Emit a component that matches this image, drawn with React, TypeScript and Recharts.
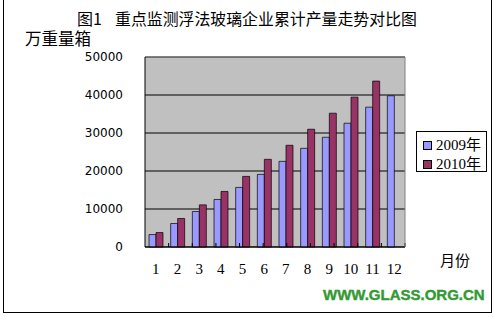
import { BarChart, Bar, XAxis, YAxis, CartesianGrid, Legend } from "recharts";

const months = ["1", "2", "3", "4", "5", "6", "7", "8", "9", "10", "11", "12"];
const output2009 = [3270, 6180, 9340, 12510, 15680, 19110, 22540, 25970, 28880, 32570, 36800, 39800];
const output2010: (number | null)[] = [3800, 7500, 11090, 14620, 18580, 23070, 26770, 30990, 35210, 39440, 43660, null];
const yTicks = [0, 10000, 20000, 30000, 40000, 50000];
const boundaryTicks = [1, 2, 3, 4, 5, 6, 7, 8, 9, 10, 11];

const data = months.map((m, i) => ({ month: m, y2009: output2009[i], y2010: output2010[i] }));

const cjk = "'Noto Sans CJK SC', sans-serif";
const serif = "'Liberation Serif', 'Noto Sans CJK SC', serif";

function LegendBox({ payload }: any) {
  return (
    <div
      style={{
        width: 71,
        height: 41,
        boxSizing: "border-box",
        border: "1px solid #000",
        background: "#fff",
        position: "relative",
      }}
    >
      {(payload || []).map((p: any, i: number) => (
        <div
          key={p.value}
          style={{
            position: "absolute",
            left: 6,
            top: 4 + i * 19,
            height: 18,
            display: "flex",
            alignItems: "center",
          }}
        >
          <span
            style={{
              width: 9,
              height: 9,
              boxSizing: "border-box",
              border: "1px solid #000",
              background: p.color,
              marginRight: 4,
            }}
          />
          <span style={{ fontFamily: serif, fontSize: 15, color: "#000", lineHeight: "18px" }}>
            {p.value}
          </span>
        </div>
      ))}
    </div>
  );
}

export default function App() {
  return (
    <div style={{ position: "absolute", left: 0, top: 0, width: 495, height: 317, background: "#fff" }}>
      {/* frame */}
      <div
        style={{
          position: "absolute",
          left: 3,
          top: 0,
          width: 489,
          height: 313,
          boxSizing: "border-box",
          borderLeft: "1px solid #000",
          borderRight: "1px solid #000",
          borderBottom: "1px solid #000",
        }}
      />
      <div style={{ position: "absolute", left: 77, top: 10, fontFamily: cjk, fontSize: 16, lineHeight: "17px", color: "#000" }}>
        图1
      </div>
      <div style={{ position: "absolute", left: 115, top: 10, fontFamily: cjk, fontSize: 15.9, lineHeight: "17px", color: "#000", whiteSpace: "nowrap" }}>
        重点监测浮法玻璃企业累计产量走势对比图
      </div>
      <div style={{ position: "absolute", left: 25, top: 30, fontFamily: cjk, fontSize: 16.5, lineHeight: "17px", color: "#000" }}>
        万重量箱
      </div>
      <div style={{ position: "absolute", left: 440, top: 252, fontFamily: cjk, fontSize: 15, lineHeight: "16px", color: "#000" }}>
        月份
      </div>
      <div
        style={{
          position: "absolute",
          left: 323,
          top: 287,
          fontFamily: "'Liberation Sans', Arial, sans-serif",
          fontWeight: 900,
          fontSize: 15,
          lineHeight: "16px",
          color: "#339933",
          WebkitTextStroke: "0.4px #339933",
          whiteSpace: "nowrap",
        }}
      >
        WWW.GLASS.ORG.CN
      </div>

      <div style={{ position: "absolute", left: 0, top: 0 }}>
        <BarChart
          width={495}
          height={317}
          data={data}
          margin={{ top: 56, right: 89, bottom: 69, left: 85 }}
          barGap={0}
          barSize={7}
        >
          <CartesianGrid vertical={false} stroke="#000" fill="#C0C0C0" fillOpacity={1} />
          <Bar dataKey="y2009" name="2009年" fill="#9999FF" stroke="#000" strokeWidth={0.7} isAnimationActive={false} />
          <Bar dataKey="y2010" name="2010年" fill="#993366" stroke="#000" strokeWidth={0.7} isAnimationActive={false} />
          <XAxis
            dataKey="month"
            height={1}
            axisLine={{ stroke: "#000" }}
            tickLine={false}
            tickSize={0}
            tickMargin={16}
            interval={0}
            tick={{ fill: "#000", fontSize: 15, fontFamily: serif }}
          />
          <XAxis
            xAxisId="bounds"
            type="number"
            domain={[0, 12]}
            allowDataOverflow
            ticks={boundaryTicks}
            height={1}
            mirror
            axisLine={false}
            tickSize={4}
            tickLine={{ stroke: "#000" }}
            tickFormatter={() => ""}
          />
          <XAxis
            xAxisId="top"
            orientation="top"
            type="number"
            domain={[0, 1]}
            height={1}
            axisLine={{ stroke: "#808080" }}
            tick={false}
            tickLine={false}
          />
          <YAxis
            width={60}
            domain={[0, 50000]}
            ticks={yTicks}
            axisLine={{ stroke: "#000" }}
            tickLine={false}
            tickSize={0}
            tickMargin={22}
            tick={{ fill: "#000", fontSize: 12, fontFamily: "'DejaVu Sans', sans-serif" }}
          />
          <YAxis
            yAxisId="right"
            orientation="right"
            width={1}
            domain={[0, 1]}
            axisLine={{ stroke: "#808080" }}
            tick={false}
            tickLine={false}
          />
          <Legend
            layout="vertical"
            align="center"
            verticalAlign="middle"
            content={<LegendBox />}
            wrapperStyle={{ position: "absolute", left: 416, top: 131, width: 71, height: 41 }}
          />
        </BarChart>
      </div>
    </div>
  );
}
